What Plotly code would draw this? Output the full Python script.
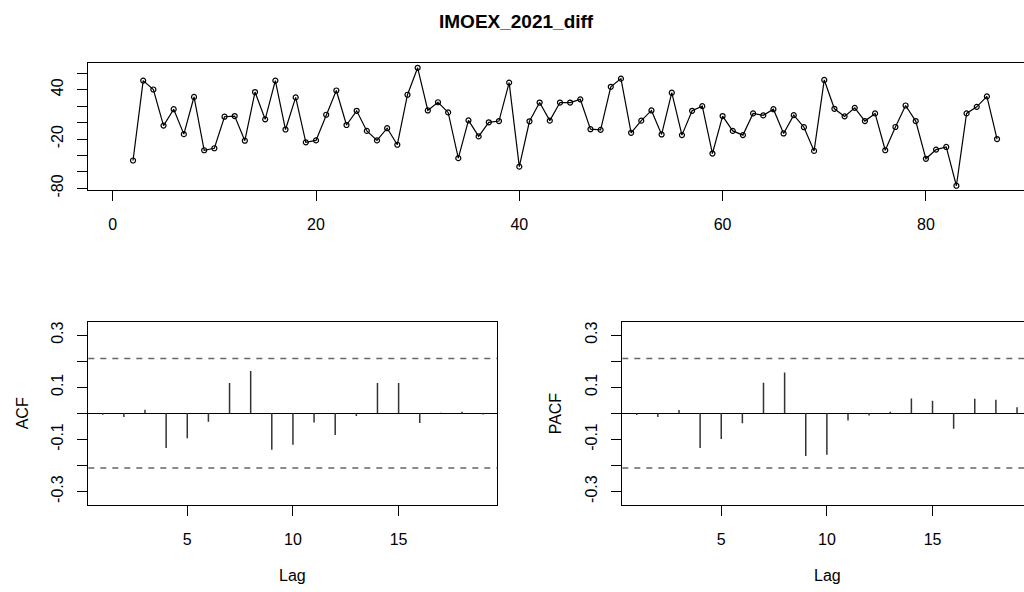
import plotly.graph_objects as go

# ---------------- data ----------------
series_title = "IMOEX_2021_diff"
ts_start = 2
ts_values = [
    -46.1, 51.1, 40.3, -3.6, 16.3, -14.0, 31.2, -33.6, -31.2, 7.2,
    8.0, -22.0, 37.2, 4.0, 51.1, -8.4, 30.7, -24.0, -21.6, 9.6,
    39.1, -2.9, 14.4, -10.1, -21.6, -6.8, -26.9, 33.9, 66.7, 14.8,
    24.8, 12.4, -43.2, 2.8, -16.8, 0.4, 1.9, 48.7, -53.6, 1.6,
    24.4, 2.4, 24.4, 24.4, 28.3, -8.0, -8.8, 43.6, 53.5, -12.4,
    2.4, 14.8, -14.4, 36.4, -15.2, 14.4, 20.0, -37.6, 8.0, -10.1,
    -15.2, 11.2, 8.8, 16.3, -13.2, 9.1, -5.6, -34.4, 51.9, 16.8,
    7.6, 18.0, 1.9, 11.2, -33.6, -5.3, 20.8, 1.9, -44.0, -32.8,
    -29.6, -76.8, 11.2, 19.2, 31.9, -20.0,
]
ts_time = list(range(ts_start, ts_start + len(ts_values)))

lags = list(range(1, 20))
acf_values = [-0.005, -0.014, 0.014, -0.133, -0.096, -0.032, 0.116, 0.162, -0.140,
              -0.120, -0.035, -0.083, -0.010, 0.116, 0.116, -0.037, 0.002, 0.006, -0.004]
pacf_values = [-0.006, -0.014, 0.013, -0.133, -0.098, -0.038, 0.117, 0.157, -0.164,
               -0.159, -0.027, -0.008, 0.006, 0.057, 0.048, -0.059, 0.056, 0.052, 0.023]
n_obs = 87
ci = 1.96 / n_obs ** 0.5

ts_xticks = [0, 20, 40, 60, 80]
ts_yticks = [-80, -60, -40, -20, 0, 20, 40, 60]
ts_ylabels = {40: "40", -20: "-20", -80: "-80"}
acf_yticks = [-0.3, -0.2, -0.1, 0.0, 0.1, 0.2, 0.3]
acf_ylabels = {0.3: "0.3", 0.1: "0.1", -0.1: "-0.1", -0.3: "-0.3"}
lag_ticks = [5, 10, 15]

# ---------------- layout helpers ----------------
W, H = 1024, 592
FONT = "Liberation Sans, Arial, Helvetica, sans-serif"


def fx(p):
    return p / W


def fy(p):
    return 1 - p / H


axis_common = dict(
    showline=True, linecolor="black", linewidth=1,
    ticks="outside", ticklen=10, tickwidth=1, tickcolor="black",
    showgrid=False, zeroline=False,
    tickfont=dict(family=FONT, size=16, color="black"),
)

fig = go.Figure()

# top series
fig.add_trace(go.Scatter(
    x=ts_time, y=ts_values, mode="lines+markers",
    line=dict(color="black", width=1.2),
    marker=dict(symbol="circle-open", size=5, color="black", line=dict(width=1.2)),
    xaxis="x", yaxis="y", showlegend=False, hoverinfo="x+y",
))


def spikes(vals):
    xs, ys = [], []
    for l, v in zip(lags, vals):
        xs += [l, l, None]
        ys += [0, v, None]
    return xs, ys


ax, ay = spikes(acf_values)
fig.add_trace(go.Scatter(x=ax, y=ay, mode="lines", line=dict(color="#333", width=1.5),
                         xaxis="x2", yaxis="y2", showlegend=False, hoverinfo="skip"))
px_, py_ = spikes(pacf_values)
fig.add_trace(go.Scatter(x=px_, y=py_, mode="lines", line=dict(color="#333", width=1.5),
                         xaxis="x3", yaxis="y3", showlegend=False, hoverinfo="skip"))

# confidence lines
for xr, yr in (("x2", "y2"), ("x3", "y3")):
    for s in (1, -1):
        fig.add_shape(type="line", xref=f"{xr} domain", yref=yr, x0=0, x1=1,
                      y0=s * ci, y1=s * ci,
                      line=dict(color="#666", width=1.5, dash="6px,6px"))

# axis domains from pixel geometry of the reference
top_dom_x = [fx(88.3), 1.0]
top_dom_y = [fy(192.3), fy(64.3)]
low_dom_y = [fy(511.5), fy(326.5)]
acf_dom_x = [fx(88.3), fx(497.3)]
pacf_dom_x = [fx(622.3), 1.0]

XSO = 10   # x tick label standoff
YSO = 8    # y tick label standoff

fig.update_layout(
    width=W, height=H,
    margin=dict(l=0, r=0, t=0, b=0),
    paper_bgcolor="white", plot_bgcolor="white",
    font=dict(family=FONT, size=16, color="black"),
    xaxis=dict(axis_common, domain=top_dom_x, range=[-2.40, 89.65], anchor="y",
               tickvals=ts_xticks, mirror=True, ticklabelstandoff=XSO),
    yaxis=dict(axis_common, domain=top_dom_y, range=[-81.6, 72.0], anchor="x",
               tickvals=ts_yticks, ticktext=[ts_ylabels.get(v, "") for v in ts_yticks],
               tickangle=-90, ticklabelstandoff=YSO),
    xaxis2=dict(axis_common, domain=acf_dom_x, range=[0.317, 19.67], anchor="y2",
                tickvals=lag_ticks, mirror=True, ticklabelstandoff=XSO),
    yaxis2=dict(axis_common, domain=low_dom_y, range=[-0.35, 0.35], anchor="x2",
                tickvals=acf_yticks, ticktext=[acf_ylabels.get(round(v, 1), "") for v in acf_yticks],
                tickangle=-90, ticklabelstandoff=YSO, mirror=True,
                zeroline=True, zerolinecolor="black", zerolinewidth=1),
    xaxis3=dict(axis_common, domain=pacf_dom_x, range=[0.317, 19.33], anchor="y3",
                tickvals=lag_ticks, mirror=True, ticklabelstandoff=XSO),
    yaxis3=dict(axis_common, domain=low_dom_y, range=[-0.35, 0.35], anchor="x3",
                tickvals=acf_yticks, ticktext=[acf_ylabels.get(round(v, 1), "") for v in acf_yticks],
                tickangle=-90, ticklabelstandoff=YSO,
                zeroline=True, zerolinecolor="black", zerolinewidth=1),
)

ann = [
    dict(text=f"<b>{series_title}</b>", x=fx(516), y=fy(22), size=19),
    dict(text="Lag", x=fx(292.8), y=fy(583), size=16),
    dict(text="Lag", x=fx(827.3), y=fy(583), size=16),
    dict(text="ACF", x=fx(22), y=fy(419), size=16, angle=-90),
    dict(text="PACF", x=fx(555), y=fy(419), size=16, angle=-90),
]
for a in ann:
    fig.add_annotation(xref="paper", yref="paper", showarrow=False,
                       xanchor="center", yanchor="middle",
                       font=dict(family=FONT, size=a["size"], color="black"),
                       text=a["text"], x=a["x"], y=a["y"], textangle=a.get("angle", 0))

# remove the browser's default 8px body margin so the figure sits at (0, 0)
fig.write_html("out.html",
               config={"displayModeBar": False},
               post_script="document.body.style.margin='0px';document.body.style.overflow='hidden';")
